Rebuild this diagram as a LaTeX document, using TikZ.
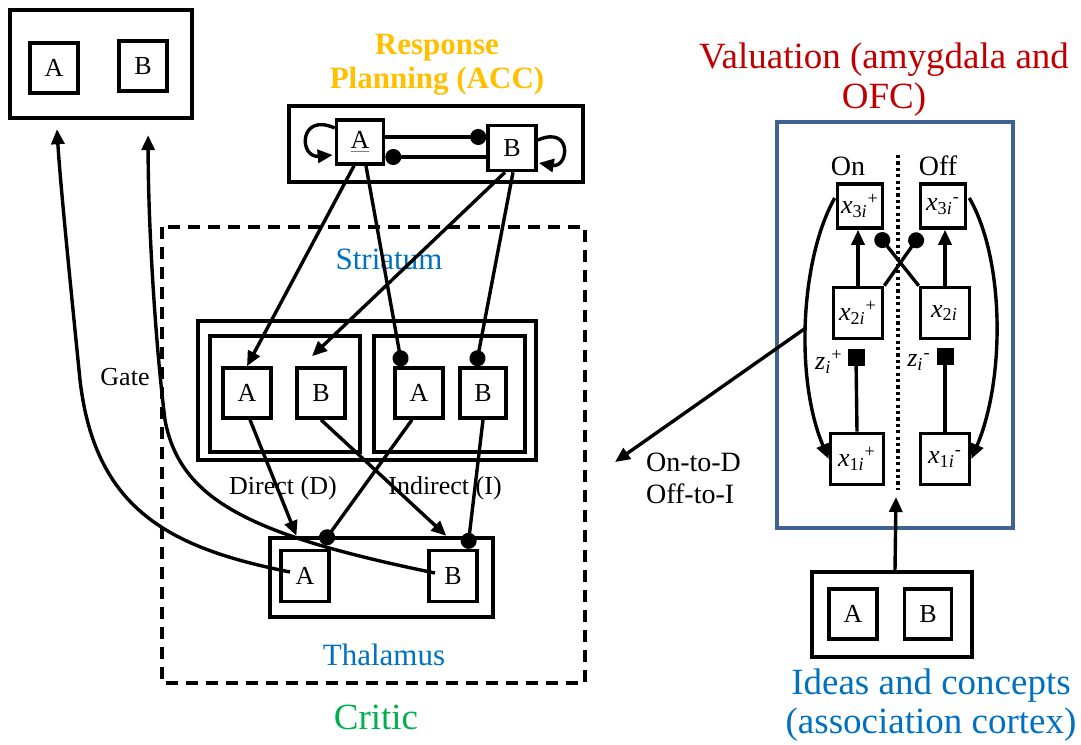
\documentclass[tikz,border=0pt]{standalone}
\usepackage{fontspec}
\setmainfont{Liberation Serif}
\usetikzlibrary{arrows.meta,calc}

\definecolor{planorange}{RGB}{255,192,0}
\definecolor{valred}{RGB}{192,0,0}
\definecolor{labelblue}{RGB}{0,112,192}
\definecolor{criticgreen}{RGB}{0,176,80}
\definecolor{valframe}{RGB}{62,99,145}

% variables of the on/off valuation circuit
\newcommand{\xvar}[2]{\textit{x}\textsubscript{#1\textit{i}}\textsuperscript{#2}}
\newcommand{\zvar}[1]{\textit{z}\textsubscript{\textit{i}}\textsuperscript{#1}}

\tikzset{
  unit/.style={draw, line width=1.8pt, minimum width=24pt, minimum height=25pt, inner sep=0pt, font=\fontsize{13}{15}\selectfont},
  panel/.style={draw, line width=2.2pt, inner sep=0pt},
  link/.style={line width=1.7pt},
  arr/.style={link, -{Triangle[length=7.5pt,width=6.5pt]}},
  inhib/.style={link, -{Circle[length=8pt]}},
  zsq/.style={fill, minimum size=8.5pt, inner sep=0pt},
  title/.style={align=center, font=\fontsize{18.5}{20}\selectfont},
  area/.style={text=labelblue, font=\fontsize{15.5}{17}\selectfont},
  small/.style={font=\fontsize{13}{15}\selectfont},
}

\begin{document}
\begin{tikzpicture}[x=0.5pt, y=-0.5pt]
  \useasboundingbox (0,0) rectangle (1081,744);

  % Motor output
  \node[panel, minimum width=91pt, minimum height=54pt] (motor) at (101,64) {};
  \node[unit] (motorA) at (54,68) {A};
  \node[unit] (motorB) at (143,66) {B};

  % Response planning (ACC)
  \node[align=center, text=planorange, font=\fontsize{15.5}{17}\selectfont\bfseries] (acctitle) at (437,65) {Response\\Planning (ACC)};
  \node[panel, minimum width=147pt, minimum height=38pt] (acc) at (436,144) {};
  \node[unit, minimum width=23.5pt, minimum height=22pt] (accA) at (360,142) {{\color{gray}\underline{\color{black}A}}};
  \node[unit, minimum height=22.5pt] (accB) at (512,148) {B};
  \draw[inhib] ($(accA.east)+(0,-5)$) -- ($(accB.west)+(0,-11)$);
  \draw[inhib] ($(accB.west)+(0,9)$) -- ($(accA.east)+(0,15)$);
  \draw[arr] ($(accA.west)+(0,-14)$) .. controls ($(accA.west)+(-36,-30)$) and ($(accA.west)+(-36,16)$) .. ($(accA.west)+(-2,13)$);
  \draw[arr] ($(accB.east)+(0,-8)$) .. controls ($(accB.east)+(35,-23)$) and ($(accB.east)+(31,20)$) .. ($(accB.east)+(1,15)$);

  % Critic
  \draw[line width=2pt, dash pattern=on 6pt off 4pt] (162,227) rectangle (585,683);
  \node[area] (striatum) at (389,259) {Striatum};
  \node[area] (thalamus) at (384,655) {Thalamus};
  \node[title, text=criticgreen] (critic) at (376,717) {Critic};

  % Striatum: direct and indirect pathways
  \node[panel, minimum width=169pt, minimum height=69.5pt] (str) at (367,390.5) {};
  \node[panel, minimum width=75pt, minimum height=58pt] (direct) at (285,394) {};
  \node[panel, minimum width=75.5pt, minimum height=58pt] (indirect) at (449.5,394) {};
  \node[unit] (dA) at (247,393) {A};
  \node[unit] (dB) at (321,393) {B};
  \node[unit] (iA) at (419,393) {A};
  \node[unit, minimum width=23pt] (iB) at (483,393) {B};
  \node[small] (dlabel) at (283,488) {Direct (D)};
  \node[small] (ilabel) at (445,488) {Indirect (I)};

  % Thalamus
  \node[panel, minimum width=111.5pt, minimum height=39.5pt] (thal) at (381.5,577.5) {};
  \node[unit, minimum height=25.5pt] (thA) at (305,576) {A};
  \node[unit, minimum height=25.5pt] (thB) at (453,576) {B};

  % ACC to striatum
  \draw[arr] ($(accA.south)+(-6,0)$) -- (dA.north);
  \draw[inhib] ($(accA.south)+(6,0)$) -- ($(iA.north)+(-17,0)$);
  \draw[arr] ($(accB.south)+(-7,0)$) -- ($(dB.north)+(-9,-10)$);
  \draw[inhib] ($(accB.south)+(1,0)$) -- ($(iB.north)+(-7,0)$);

  % Striatum to thalamus
  \draw[arr] ($(dA.south)+(3,0)$) -- ($(thal.north west)!0.126!(thal.north east)$);
  \draw[arr] (dB.south) -- ($(thal.north west)!0.785!(thal.north east)$);
  \draw[inhib] ($(iA.south)+(-7,0)$) -- ($(thal.north west)!0.24!(thal.north east)+(0,8)$);
  \draw[inhib] (iB.south) -- ($(thal.north west)!0.879!(thal.north east)+(0,13)$);

  % Gate back to the motor output
  \draw[arr] ($(thA.center)+(-15,-4)$) .. controls (170,548) and (95,510) .. (80,380)
    .. controls (70,280) and (60,180) .. ($(motor.south west)!0.264!(motor.south east)+(0,9)$);
  \draw[arr] ($(thB.center)+(-18,-3)$) .. controls (250,535) and (180,500) .. (165,420)
    .. controls (155,340) and (148,220) .. ($(motor.south west)!0.753!(motor.south east)+(0,15)$);
  \node[small] (gate) at (125,377) {Gate};

  % Valuation (amygdala and OFC)
  \node[title, text=valred] (valtitle) at (884,80) {Valuation (amygdala and\\OFC)};
  \node[panel, draw=valframe, minimum width=118pt, minimum height=203pt] (val) at (895,325) {};
  \draw[line width=2pt, dash pattern=on 1.6pt off 1.6pt] (898,155) -- (898,490);
  \node[small, font=\fontsize{14}{16}\selectfont] (on) at (848,166) {On};
  \node[small, font=\fontsize{14}{16}\selectfont] (off) at (938,166) {Off};
  \node[unit, minimum width=22.5pt, minimum height=22pt] (x3p) at (860,206) {\xvar{3}{+}};
  \node[unit, minimum width=22.5pt, minimum height=22pt] (x3m) at (943,206) {\xvar{3}{-}};
  \node[unit, minimum width=24.5pt, minimum height=25.5pt] (x2p) at (858,313) {\xvar{2}{+}};
  \node[unit, minimum width=24.5pt, minimum height=25.5pt] (x2m) at (945,313) {\xvar{2}{}};
  \node[unit, minimum width=26.5pt, minimum height=25.5pt] (x1p) at (857,459) {\xvar{1}{+}};
  \node[unit, minimum width=24.5pt, minimum height=25.5pt] (x1m) at (945,459) {\xvar{1}{-}};
  \node[zsq] (zp) at (856,357) {};
  \node[zsq] (zm) at (945,356) {};
  \node[small, anchor=east, inner sep=1pt] (zplabel) at (845,362) {\zvar{+}};
  \node[small, anchor=east, inner sep=1pt] (zmlabel) at (933,362) {\zvar{-}};
  \draw[arr] (x2p.north) -- (x2p.north |- x3p.south);
  \draw[arr] (x2m.north) -- (x2m.north |- x3m.south);
  \draw[inhib] (x2p.north east) -- ($(x3m.south west)+(2,4)$);
  \draw[inhib] (x2m.north west) -- ($(x3p.south east)+(-7,4)$);
  \draw[link] (x1p.north) -- (zp);
  \draw[link] (x1m.north) -- (zm);
  \draw[arr] ($(x3p.west)+(-1,-8)$) .. controls (800,260) and (795,380) .. (x1p.west) coordinate[pos=0.52] (tap);
  \draw[arr] ($(x3m.east)+(2,-8)$) .. controls (1005,260) and (1005,380) .. (x1m.east);

  % Valuation feeds the striatum
  \coordinate (dtarget) at (615,462);
  \draw[arr] (tap) -- (dtarget);
  \node[align=left, anchor=west, font=\fontsize{14}{16}\selectfont] (onoff) at (639,478) {On-to-D\\Off-to-I};

  % Ideas and concepts (association cortex)
  \node[panel, minimum width=80pt, minimum height=42.5pt] (ideas) at (892,614.5) {};
  \node[unit] (ideaA) at (853,614) {A};
  \node[unit, minimum width=23.5pt] (ideaB) at (928,614) {B};
  \coordinate (valin) at (896,497);
  \draw[arr] ($(ideas.north)+(3,0)$) -- (valin);
  \node[title, text=labelblue, font=\fontsize{18.5}{19.5}\selectfont] (ideastitle) at (931,705) {Ideas and concepts\\(association cortex)};
\end{tikzpicture}
\end{document}
